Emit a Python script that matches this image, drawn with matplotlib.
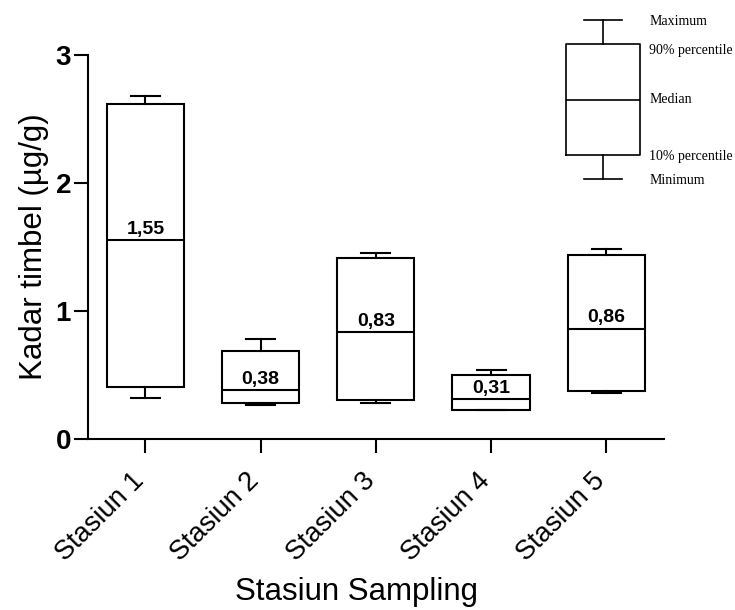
import matplotlib
matplotlib.use("Agg")
import matplotlib.pyplot as plt

plt.rcParams['font.family'] = ['Liberation Sans', 'DejaVu Sans']

# data (ug/g)
stations = ['Stasiun 1', 'Stasiun 2', 'Stasiun 3', 'Stasiun 4', 'Stasiun 5']
mins = [0.32, 0.26, 0.28, 0.22, 0.355]
p10 = [0.40, 0.28, 0.30, 0.225, 0.37]
medians = [1.55, 0.38, 0.83, 0.31, 0.86]
p90 = [2.615, 0.685, 1.41, 0.495, 1.435]
maxs = [2.68, 0.775, 1.45, 0.535, 1.485]
median_labels = ['1,55', '0,38', '0,83', '0,31', '0,86']

# schematic box for the key in the corner
key_stats = [0.0, 0.15, 0.5, 0.85, 1.0]
key_labels = ['Minimum', '10% percentile', 'Median', '90% percentile', 'Maximum']
key_label_y = [-0.01, 0.14, 0.5, 0.81, 0.99]

line_kw = dict(color='black', linewidth=1.5)

fig = plt.figure(figsize=(7.35, 6.1), dpi=100)
ax = fig.add_axes([0.1193, 0.2811, 0.7841, 0.6287])

stats = []
for i in range(len(stations)):
    stats.append(dict(whislo=mins[i], q1=p10[i], med=medians[i],
                      q3=p90[i], whishi=maxs[i], fliers=[]))
pos = list(range(1, len(stations) + 1))
ax.bxp(stats, positions=pos, widths=0.67, capwidths=0.25, showfliers=False,
       patch_artist=True,
       boxprops=dict(facecolor='white', edgecolor='black', linewidth=1.5),
       medianprops=line_kw, whiskerprops=line_kw, capprops=line_kw)

for i in range(len(stations)):
    ax.text(pos[i], medians[i] + 0.05, median_labels[i], ha='center',
            va='baseline', fontsize=14, fontweight='bold')

ax.set_xlim(0.5, 5.5)
ax.set_ylim(0, 3)
ax.set_yticks([0, 1, 2, 3])
ax.set_xticks(pos)
ax.set_xticklabels(stations, rotation=45, ha='right', va='baseline',
                   rotation_mode='anchor', fontsize=19.5)
for lab in ax.get_yticklabels():
    lab.set_fontweight('bold')
    lab.set_fontsize(20)
ax.tick_params(axis='y', length=10, width=1.5, pad=2)
ax.tick_params(axis='x', length=10, width=1.5, pad=21.5)
ax.spines['top'].set_visible(False)
ax.spines['right'].set_visible(False)
ax.spines['left'].set_linewidth(1.5)
ax.spines['bottom'].set_linewidth(1.5)
ax.set_ylabel('Kadar timbel (µg/g)', fontsize=22.5, labelpad=5)
ax.set_xlabel('Stasiun Sampling', fontsize=22.5)
ax.xaxis.label.set_va('baseline')
ax.xaxis.set_label_coords(0.4656, -0.421)

# key in the top right corner
kax = fig.add_axes([555 / 735, 0.680, 96 / 735, 0.3134])
kax.set_xlim(0, 1)
kax.set_ylim(-0.1, 1.1)
kax.axis('off')
kax.bxp([dict(whislo=key_stats[0], q1=key_stats[1], med=key_stats[2],
              q3=key_stats[3], whishi=key_stats[4], fliers=[])],
        positions=[0.5], widths=0.78, capwidths=0.39, showfliers=False,
        boxprops=dict(color='black', linewidth=1.2),
        medianprops=dict(color='black', linewidth=1.2),
        whiskerprops=dict(color='black', linewidth=1.2),
        capprops=dict(color='black', linewidth=1.2))
for lab, yv in zip(key_labels, key_label_y):
    kax.text(0.98, yv, lab, ha='left', va='center', fontsize=10,
             family='Liberation Serif', clip_on=False)

fig.savefig('out.png', dpi=100)
